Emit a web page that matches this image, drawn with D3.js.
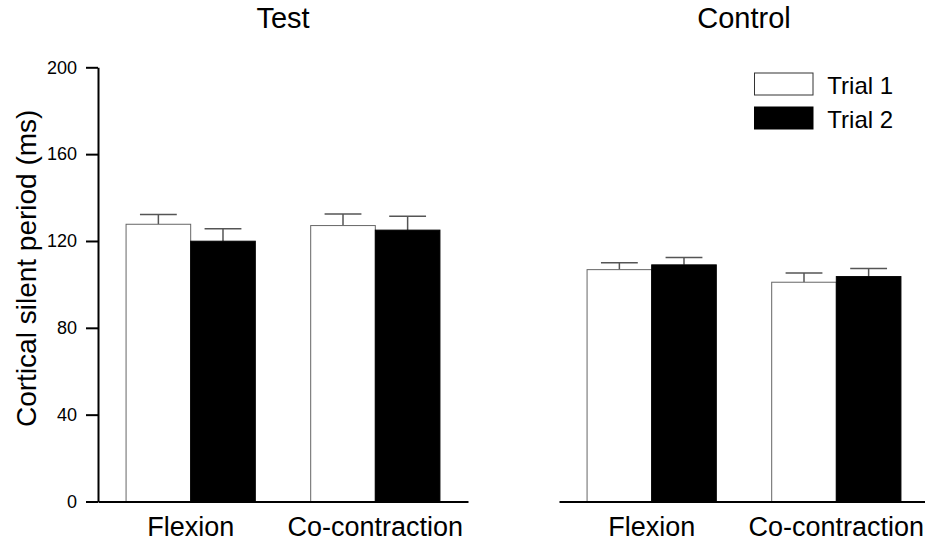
<!DOCTYPE html>
<html>
<head>
<meta charset="utf-8">
<script src="https://cdn.jsdelivr.net/npm/d3@7"></script>
<style>
  html, body { margin: 0; padding: 0; background: #fff; }
  svg { display: block; }
  text { font-family: "Liberation Sans", Arial, Helvetica, sans-serif; fill: #000; }
</style>
</head>
<body>
<svg id="chart" width="925" height="543"></svg>
<script>
// Cortical silent period (ms), mean and error, per task and trial
const panels = ["Test", "Control"];
const tasks = ["Flexion", "Co-contraction"];
const trials = ["Trial 1", "Trial 2"];
const yTicks = [0, 40, 80, 120, 160, 200];

const testTrial1 = [127.7, 127.1];
const testTrial1Err = [4.5, 5.3];
const testTrial2 = [119.9, 125.0];
const testTrial2Err = [5.7, 6.4];

const controlTrial1 = [106.8, 101.0];
const controlTrial1Err = [3.2, 4.3];
const controlTrial2 = [109.0, 103.6];
const controlTrial2Err = [3.4, 3.7];

const panelData = {
  "Test": [
    { trial: "Trial 1", values: testTrial1, errors: testTrial1Err },
    { trial: "Trial 2", values: testTrial2, errors: testTrial2Err }
  ],
  "Control": [
    { trial: "Trial 1", values: controlTrial1, errors: controlTrial1Err },
    { trial: "Trial 2", values: controlTrial2, errors: controlTrial2Err }
  ]
};

const svg = d3.select("#chart");

const y = d3.scaleLinear().domain([0, 200]).range([501.5, 67.3]);
const panelX = d3.scaleOrdinal().domain(panels).range([[98, 468], [559, 929]]);
const fillOf = d3.scaleOrdinal().domain(trials).range(["#ffffff", "#000000"]);
const strokeOf = d3.scaleOrdinal().domain(trials).range(["#666666", "#000000"]);

panels.forEach((p, pi) => {
  const g = svg.append("g");
  const x = d3.scaleBand().domain(tasks).range(panelX(p))
    .paddingInner(0.30).paddingOuter(0.152);
  const xt = d3.scaleBand().domain(trials).range([0, x.bandwidth()]).padding(0);

  // bars
  panelData[p].forEach(s => {
    tasks.forEach((t, i) => {
      const v = s.values[i], e = s.errors[i];
      const x0 = x(t) + xt(s.trial);
      const w = xt.bandwidth();
      const cx = x0 + w / 2;
      const capW = w * 0.57;
      // upper error bar
      g.append("line")
        .attr("x1", cx).attr("x2", cx)
        .attr("y1", y(v)).attr("y2", y(v + e))
        .attr("stroke", "#555").attr("stroke-width", 1.5);
      g.append("line")
        .attr("x1", cx - capW / 2).attr("x2", cx + capW / 2)
        .attr("y1", y(v + e)).attr("y2", y(v + e))
        .attr("stroke", "#555").attr("stroke-width", 1.5);
      g.append("rect")
        .attr("x", x0).attr("y", y(v))
        .attr("width", w).attr("height", y(0) - y(v))
        .attr("fill", fillOf(s.trial))
        .attr("stroke", strokeOf(s.trial)).attr("stroke-width", 1);
    });
  });

  // category axis
  const xAxis = g.append("g")
    .attr("transform", `translate(0,${y(0)})`)
    .call(d3.axisBottom(x).tickSize(0).tickPadding(15.5).tickSizeOuter(0));
  xAxis.select(".domain").attr("stroke", "#000").attr("stroke-width", 2);
  xAxis.selectAll("text").style("font-size", "27px");

  // panel title
  const [r0, r1] = x.range();
  g.append("text")
    .attr("x", (x(tasks[0]) + x(tasks[1]) + x.bandwidth()) / 2)
    .attr("y", 27.5)
    .attr("text-anchor", "middle")
    .style("font-size", "29px")
    .text(p);

  // value axis on the first panel only
  if (pi === 0) {
    const yAxis = g.append("g")
      .attr("transform", `translate(${r0},0)`)
      .call(d3.axisLeft(y).tickValues(yTicks).tickSize(12).tickPadding(9).tickSizeOuter(0));
    yAxis.select(".domain").attr("stroke", "#000").attr("stroke-width", 2);
    yAxis.selectAll(".tick line").attr("stroke", "#000").attr("stroke-width", 2);
    yAxis.selectAll("text").style("font-size", "18px");
  }
});

// axis title
svg.append("text")
  .attr("transform", "rotate(-90)")
  .attr("x", -268.3)
  .attr("y", 35.5)
  .attr("text-anchor", "middle")
  .style("font-size", "28px")
  .text("Cortical silent period (ms)");

// legend
const legend = svg.append("g");
trials.forEach((t, i) => {
  const row = legend.append("g").attr("transform", `translate(754.5,${73 + i * 34})`);
  row.append("rect")
    .attr("width", 58.5).attr("height", 22)
    .attr("fill", fillOf(t))
    .attr("stroke", strokeOf(t) === "#000000" ? "#000" : "#333").attr("stroke-width", 1);
  row.append("text")
    .attr("x", 72.8).attr("y", 21.3)
    .style("font-size", "24px")
    .text(t);
});
</script>
</body>
</html>
